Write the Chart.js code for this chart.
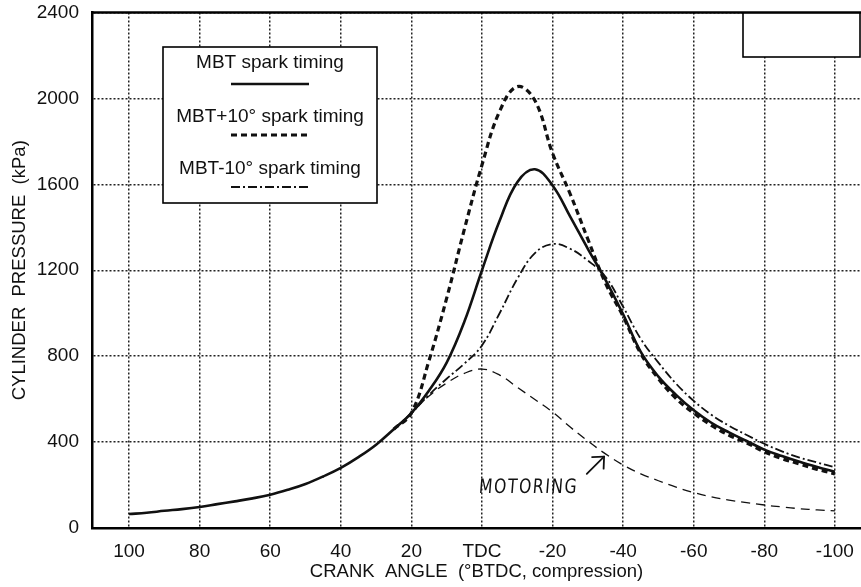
<!DOCTYPE html>
<html>
<head>
<meta charset="utf-8">
<script src="https://cdn.jsdelivr.net/npm/chart.js@4.4.1/dist/chart.umd.min.js"></script>
<style>
html,body{margin:0;padding:0;background:#fff;}
#wrap{width:861px;height:587px;}
</style>
</head>
<body>
<div id="wrap"><canvas id="pressure-chart" width="861" height="587"></canvas></div>
<script>
// crank angle, deg BTDC (positive = before TDC)
const ANGLES = [100,95,90,85,80,75,70,65,60,55,50,45,40,35,30,25,20,15,10,5,0,
  -5,-10,-15,-20,-25,-30,-35,-40,-45,-50,-55,-60,-65,-70,-75,-80,-85,-90,-95,-100];

// cylinder pressure, kPa
const MBT = [65,71,80,88,98,111,124,138,155,178,205,240,280,330,388,460,535,640,770,960,1200,
  1430,1610,1670,1595,1450,1300,1155,995,820,705,620,548,490,445,405,365,335,308,284,262];
const MBT_PLUS10 = [null,null,null,null,null,null,null,null,null,null,null,null,null,null,null,
  460,535,780,1070,1390,1690,1940,2055,1990,1745,1555,1345,1140,985,812,695,603,535,478,432,396,355,323,298,273,252];
const MBT_MINUS10 = [null,null,null,null,null,null,null,null,null,null,null,null,null,null,null,
  460,535,620,695,765,850,1000,1160,1280,1322,1300,1245,1170,1030,880,770,672,592,527,476,433,392,357,328,305,283];
const MOTORING = [null,null,null,null,null,null,null,null,null,null,null,null,null,null,null,
  460,535,615,675,720,740,712,655,598,540,470,405,345,293,252,220,190,165,145,130,118,107,98,90,84,80];

const X_TICKS = [100,80,60,40,20,0,-20,-40,-60,-80,-100];
const Y_TICKS = [0,400,800,1200,1600,2000,2400];
const LEGEND_LABELS = ["MBT spark timing","MBT+10° spark timing","MBT-10° spark timing"];

const FONT = "'Liberation Sans', Arial, Helvetica, sans-serif";
const INK = "#111";

function pts(series) {
  return ANGLES.map((a,i)=>({x:a,y:series[i]})).filter(p=>p.y!==null);
}

// stop tick labels from pushing the plot area inwards
function noOverhang(s) {
  s.paddingTop = 0; s.paddingBottom = 0; s.paddingLeft = 0; s.paddingRight = 0;
}

const overlay = {
  id: "overlay",
  afterDraw(chart) {
    const {ctx, chartArea:a, scales:{x,y}} = chart;
    ctx.save();
    // top frame
    ctx.strokeStyle = "#000"; ctx.lineWidth = 2.5; ctx.setLineDash([]);
    ctx.beginPath(); ctx.moveTo(a.left-1, a.top); ctx.lineTo(a.right, a.top); ctx.stroke();

    // empty box top right
    ctx.fillStyle = "#fff"; ctx.lineWidth = 1.6;
    ctx.fillRect(743,13,117,44); ctx.strokeRect(743,13,117,44);

    // legend
    const box = {l:163,t:47,w:214,h:156};
    ctx.fillRect(box.l,box.t,box.w,box.h); ctx.strokeRect(box.l,box.t,box.w,box.h);
    const cx = box.l + box.w/2;
    const textY = [63,117,169], lineY = [84,135,187];
    ctx.font = `19px ${FONT}`; ctx.fillStyle = INK;
    ctx.textAlign = "center"; ctx.textBaseline = "middle";
    LEGEND_LABELS.forEach((lab,i)=>{
      const ds = chart.data.datasets[i];
      ctx.fillText(lab, cx, textY[i]);
      ctx.strokeStyle = ds.borderColor; ctx.lineWidth = ds.borderWidth;
      ctx.setLineDash(ds.borderDash || []);
      ctx.beginPath(); ctx.moveTo(cx-39, lineY[i]); ctx.lineTo(cx+39, lineY[i]); ctx.stroke();
    });

    // MOTORING note + arrow
    ctx.setLineDash([]);
    const tx = x.getPixelForValue(1), ty = y.getPixelForValue(162);
    ctx.save();
    ctx.translate(tx, ty);
    ctx.transform(0.78, 0, -0.08, 1, 0, 0);
    ctx.font = `20px 'DejaVu Sans', sans-serif`;
    ctx.letterSpacing = "2px";
    ctx.textAlign = "left"; ctx.textBaseline = "alphabetic";
    ctx.fillText("MOTORING", 0, 0);
    ctx.restore();
    const x0 = x.getPixelForValue(-29.7), y0 = y.getPixelForValue(252);
    const x1 = x.getPixelForValue(-34.6), y1 = y.getPixelForValue(332);
    ctx.strokeStyle = INK; ctx.lineWidth = 1.8; ctx.lineCap = "round";
    ctx.beginPath(); ctx.moveTo(x0,y0); ctx.lineTo(x1,y1); ctx.stroke();
    const ang = Math.atan2(y0-y1, x0-x1);
    [0.75,-0.75].forEach(d=>{
      ctx.beginPath(); ctx.moveTo(x1,y1);
      ctx.lineTo(x1+12*Math.cos(ang+d), y1+12*Math.sin(ang+d)); ctx.stroke();
    });
    ctx.restore();
  }
};

new Chart(document.getElementById("pressure-chart"), {
  type: "line",
  data: {
    datasets: [
      {label:LEGEND_LABELS[0], data:pts(MBT), borderColor:INK, borderWidth:2.6, borderDash:[]},
      {label:LEGEND_LABELS[1], data:pts(MBT_PLUS10), borderColor:INK, borderWidth:3.2, borderDash:[6,4]},
      {label:LEGEND_LABELS[2], data:pts(MBT_MINUS10), borderColor:INK, borderWidth:1.8, borderDash:[9,3,2,3]},
      {label:"Motoring", data:pts(MOTORING), borderColor:INK, borderWidth:1.3, borderDash:[9,6]},
    ].map(d=>Object.assign(d,{pointRadius:0, fill:false, tension:0.4})),
  },
  options: {
    responsive: false, animation: false,
    layout: {padding:{top:12.5,right:0,left:0,bottom:0}},
    plugins: {legend:{display:false}, tooltip:{enabled:false}},
    scales: {
      x: {
        type: "linear", reverse: true, min: -107.4, max: 110.5,
        afterBuildTicks: s=>{ s.ticks = X_TICKS.map(v=>({value:v})); },
        afterFit: s=>{ s.height = 59; noOverhang(s); },
        ticks: {color:INK, padding:12, maxRotation:0, autoSkip:false,
                font:{family:FONT,size:19}, callback:v=>v===0?"TDC":String(v)},
        grid: {color:"#222", lineWidth:1.5, drawTicks:false},
        border: {color:"#000", width:2.5, dash:[2,2]},
        title: {display:true, text:"CRANK  ANGLE  (°BTDC, compression)", color:INK,
                font:{family:FONT,size:18.5}, padding:{top:0,bottom:4}},
      },
      y: {
        min: 0, max: 2400,
        afterBuildTicks: s=>{ s.ticks = Y_TICKS.map(v=>({value:v})); },
        afterFit: s=>{ s.width = 92; noOverhang(s); },
        ticks: {color:INK, padding:13, font:{family:FONT,size:19}, callback:v=>String(v)},
        grid: {color:"#222", lineWidth:1.5, drawTicks:false},
        border: {color:"#000", width:2.5, dash:[2,2]},
        title: {display:true, text:"CYLINDER  PRESSURE  (kPa)", color:INK,
                font:{family:FONT,size:18.5}, padding:{top:9,bottom:0}},
      },
    },
  },
  plugins: [overlay],
});
</script>
</body>
</html>
